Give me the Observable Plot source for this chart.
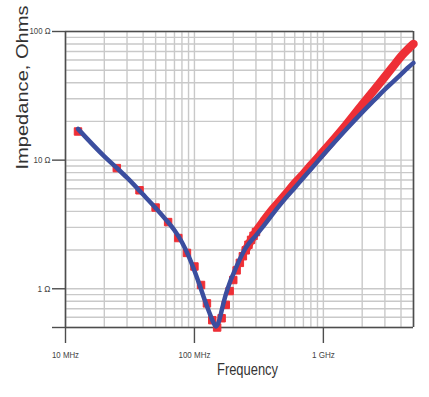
<!DOCTYPE html>
<html>
<head>
<meta charset="utf-8">
<script src="https://cdn.jsdelivr.net/npm/d3@7"></script>
<script src="https://cdn.jsdelivr.net/npm/@observablehq/plot@0.6"></script>
<style>
  html, body { margin: 0; padding: 0; background: #fff; }
  #chart svg { display: block; }
</style>
</head>
<body>
<div id="chart"></div>
<script>
// ---- Data (frequency in MHz, impedance in ohms) ----
// Measured data: discrete points at low frequency
const measFreqMHz = [12.5, 25, 37.5, 50, 62.5, 75, 87.5, 100, 112.5, 125, 137.5, 150, 162.5, 175, 187.5, 200, 212.5, 225, 237.5, 250, 262.5, 275, 287.5, 300];
const measOhms    = [16.7, 8.67, 5.83, 4.28, 3.3, 2.48, 1.90, 1.49, 1.07, 0.77, 0.57, 0.50, 0.59, 0.75, 0.96, 1.17, 1.39, 1.59, 1.79, 1.99, 2.2, 2.4, 2.58, 2.76];
// Measured data: dense points at high frequency (merge into a band)
const measBandFreqMHz = [250, 300, 350, 400, 500, 600, 700, 800, 1000, 1500, 2000, 2500, 3000, 3500, 4000, 4500, 5000];
const measBandOhms    = [2.0, 2.78, 3.45, 4.1, 5.3, 6.6, 7.8, 9.1, 11.7, 18.8, 27, 35.5, 44.5, 54, 64, 72.5, 80];
// Model curve
const modelFreqMHz = [12.5, 20, 25, 30, 40, 50, 60, 70, 80, 90, 100, 110, 120, 130, 140, 147, 155, 165, 175, 190, 200, 225, 250, 300, 350, 400, 500, 600, 700, 800, 1000, 1500, 2000, 2500, 3000, 3500, 4000, 4500, 5000];
const modelOhms    = [17.5, 10.7, 8.7, 7.3, 5.4, 4.25, 3.45, 2.85, 2.3, 1.8, 1.38, 1.06, 0.82, 0.66, 0.55, 0.51, 0.56, 0.72, 0.90, 1.15, 1.3, 1.7, 2.08, 2.6, 3.15, 3.75, 4.95, 6.1, 7.3, 8.5, 11.0, 17.3, 23.5, 29.5, 35.5, 41, 46.5, 52, 57];
// Axes
const xDomainMHz = [10, 5000];
const yDomainOhms = [0.5, 100];
const xTickMHz = [10, 100, 1000];
const xTickLabels = ["10 MHz", "100 MHz", "1 GHz"];
const yTickOhms = [1, 10, 100];
const yTickLabels = ["1 Ω", "10 Ω", "100 Ω"];
const xTitle = "Frequency";
const yTitle = "Impedance, Ohms";

const measured = measFreqMHz.map((f, i) => ({f, z: measOhms[i]}));
const measuredBand = measBandFreqMHz.map((f, i) => ({f, z: measBandOhms[i]}));
const model = modelFreqMHz.map((f, i) => ({f, z: modelOhms[i]}));

const gridX = d3.scaleLog().domain(xDomainMHz).ticks();
const gridY = d3.scaleLog().domain(yDomainOhms).ticks();

const dark = "#4d4d4d";
const gridColor = "#c9c9c9";
const red = "#ee2f36";
const blue = "#3b4e9f";

const chart = Plot.plot({
  width: 429,
  height: 397,
  marginLeft: 65,
  marginRight: 16,
  marginTop: 31,
  marginBottom: 70,
  style: {background: "#fff", color: dark, fontFamily: "'Liberation Sans', Arial, sans-serif"},
  x: {type: "log", domain: xDomainMHz},
  y: {type: "log", domain: yDomainOhms},
  marks: [
    Plot.ruleX(gridX, {stroke: gridColor, strokeWidth: 1.4}),
    Plot.ruleY(gridY, {stroke: gridColor, strokeWidth: 1.4}),
    Plot.axisY({
      ticks: [yDomainOhms[0], ...yTickOhms],
      tickSize: 13, tickPadding: 2, fontSize: 9, label: null,
      stroke: dark, strokeWidth: 1.4, fill: "#444",
      tickFormat: d => { const i = yTickOhms.indexOf(d); return i >= 0 ? yTickLabels[i] : ""; }
    }),
    Plot.axisX({
      ticks: xTickMHz,
      tickSize: 16, tickPadding: 8, fontSize: 9, label: null,
      stroke: dark, strokeWidth: 1.4, fill: "#444",
      tickFormat: d => xTickLabels[xTickMHz.indexOf(d)]
    }),
    Plot.ruleX(xDomainMHz, {stroke: dark, strokeWidth: 1.6}),
    Plot.ruleY(yDomainOhms, {stroke: dark, strokeWidth: 1.5}),
    Plot.dot(measured, {x: "f", y: "z", symbol: "square", r: 4.2, fill: red, stroke: red, strokeWidth: 1, strokeLinejoin: "round"}),
    Plot.line(measuredBand, {x: "f", y: "z", stroke: red, strokeWidth: 8.5, strokeLinecap: "round", curve: "monotone-x"}),
    Plot.line(model, {x: "f", y: "z", stroke: blue, strokeWidth: 4.5, curve: "monotone-x"}),
    Plot.text([yTitle], {frameAnchor: "left", dx: -43, dy: -10, rotate: -90, fontSize: 16, fill: "#333"}),
    Plot.text([xTitle], {frameAnchor: "bottom", dx: 8, dy: 47, fontSize: 16, fill: "#333"})
  ]
});

document.getElementById("chart").append(chart);

// Match the condensed / stretched lettering of the reference text
const widths = new Map([
  [xTitle, 61], [yTitle, 164],
  ["10 MHz", 27], ["100 MHz", 32], ["1 GHz", 23],
  ["1 Ω", 13], ["10 Ω", 17], ["100 Ω", 21]
]);
d3.select(chart).selectAll("text").each(function() {
  const w = widths.get(this.textContent);
  if (w) d3.select(this).attr("textLength", w).attr("lengthAdjust", "spacingAndGlyphs");
});
</script>
</body>
</html>
